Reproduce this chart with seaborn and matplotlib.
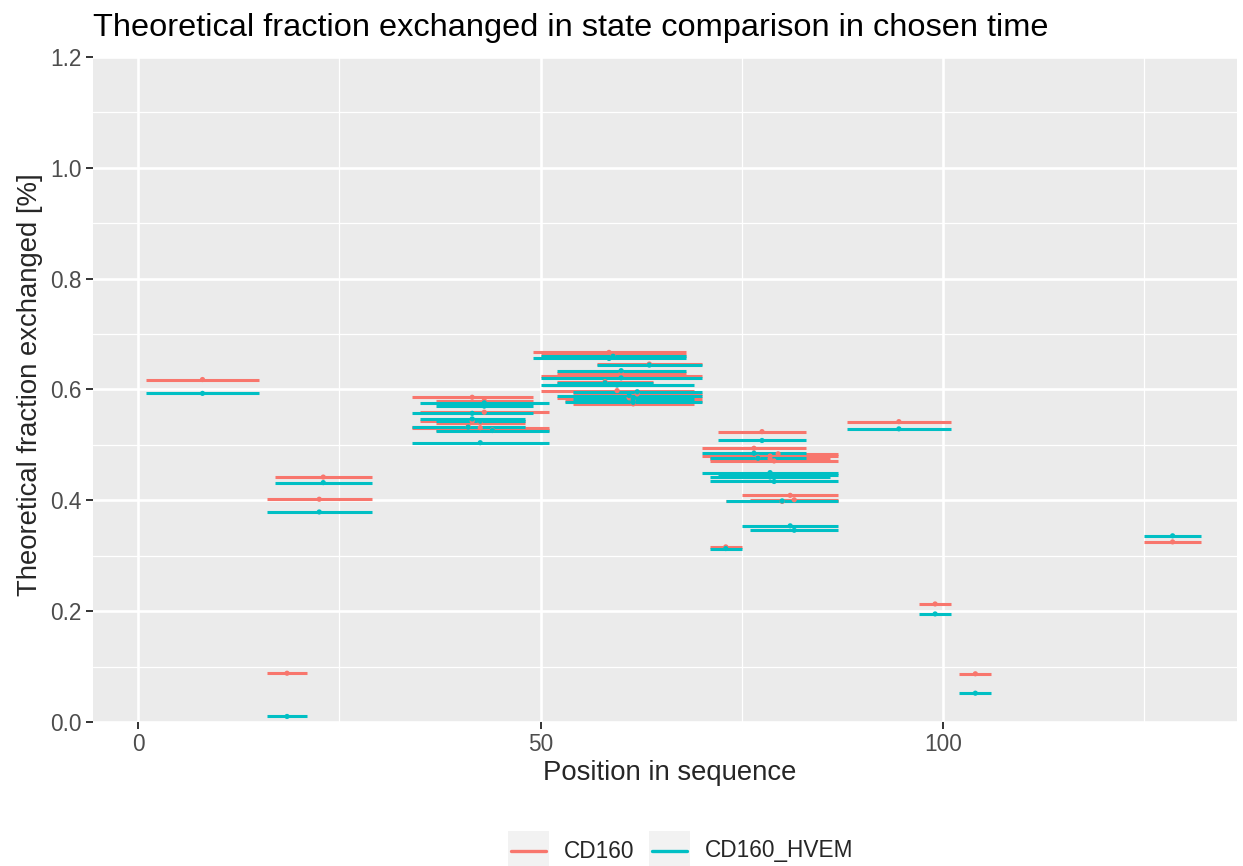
import numpy as np
import pandas as pd
import matplotlib
matplotlib.use("Agg")
import matplotlib.pyplot as plt
import seaborn as sns
from matplotlib.patches import Rectangle
from matplotlib.lines import Line2D

# ---- data ----
starts = [1, 16, 16, 17,
          34, 37, 35, 35, 37, 34, 34, 37,
          49, 50, 57, 52, 50, 52, 50, 54, 52, 53, 54,
          72, 70, 72, 71, 71, 71, 70, 75, 76, 73, 71,
          88, 97, 102, 125]
ends = [15, 21, 29, 29,
        49, 49, 51, 48, 48, 48, 51, 51,
        68, 68, 70, 68, 70, 64, 69, 70, 70, 70, 69,
        83, 83, 87, 83, 86, 87, 87, 87, 87, 87, 75,
        101, 101, 106, 132]
cd160 = [0.618, 0.088, 0.402, 0.442,
         0.586, 0.580, 0.559, 0.543, 0.540, 0.533, 0.531, 0.527,
         0.667, 0.662, 0.646, 0.629, 0.625, 0.614, 0.598, 0.592, 0.585, 0.580, 0.574,
         0.524, 0.494, 0.484, 0.478, 0.475, 0.471, 0.480, 0.409, 0.401, 0.398, 0.316,
         0.542, 0.213, 0.087, 0.325]
cd160_hvem = [0.593, 0.010, 0.379, 0.432,
              0.557, 0.570, 0.576, 0.547, 0.543, 0.532, 0.504, 0.526,
              0.656, 0.660, 0.644, 0.634, 0.621, 0.612, 0.608, 0.596, 0.589, 0.577, 0.583,
              0.508, 0.485, 0.445, 0.476, 0.442, 0.434, 0.450, 0.354, 0.346, 0.399, 0.313,
              0.529, 0.195, 0.052, 0.336]
states = ["CD160", "CD160_HVEM"]
x_ticks = [0, 50, 100]
y_ticks = [0.0, 0.2, 0.4, 0.6, 0.8, 1.0, 1.2]

rows = []
for st, vals in zip(states, [cd160, cd160_hvem]):
    for s, e, v in zip(starts, ends, vals):
        rows.append(dict(state=st, start=s, end=e, mid=(s + e) / 2, frac=v))
df = pd.DataFrame(rows)

palette = {"CD160": "#F8766D", "CD160_HVEM": "#00BFC4"}

sns.set_theme(style="darkgrid")
plt.rcParams["font.family"] = ["Liberation Sans", "DejaVu Sans"]

W, H = 1243, 866
fig = plt.figure(figsize=(W / 100, H / 100), dpi=100)
ax = fig.add_axes([93 / W, 1 - 722 / H, (1237 - 93) / W, (722 - 57) / H])
ax.set_facecolor("#EBEBEB")

for st in states:
    d = df[df.state == st]
    ax.hlines(d["frac"], d["start"], d["end"], color=palette[st], lw=2.2, zorder=3)
sns.scatterplot(data=df, x="mid", y="frac", hue="state", palette=palette,
                s=14, marker="o", edgecolor="none", legend=False, ax=ax, zorder=4)

ax.set_xlim(-5.6, 136.5)
ax.set_ylim(0, 1.2)
ax.set_xticks(x_ticks)
ax.set_xticklabels([str(t) for t in x_ticks])
ax.set_yticks(y_ticks)
ax.set_yticklabels([f"{t:.1f}" for t in y_ticks])
ax.set_xticks([25, 75, 125], minor=True)
ax.set_yticks(np.arange(0.1, 1.2, 0.2), minor=True)
ax.grid(which="major", color="white", lw=1.9)
ax.grid(which="minor", color="white", lw=0.9)
ax.set_axisbelow(True)
for sp in ax.spines.values():
    sp.set_visible(False)
ax.tick_params(which="major", length=5, width=1.4, color="#333333",
               labelsize=16.3, labelcolor="#4D4D4D", pad=3, bottom=True, left=True)
ax.tick_params(which="minor", length=0)
ax.set_xlabel("")
ax.set_ylabel("")

fig.text(93 / W, 1 - 28 / H, "Theoretical fraction exchanged in state comparison in chosen time",
         fontsize=23.4, ha="left", va="center", color="black")
fig.text(670 / W, 1 - 773 / H, "Position in sequence", fontsize=19.8, ha="center", va="center")
fig.text(30 / W, 1 - 385 / H, "Theoretical fraction exchanged [%]", fontsize=19.8,
         ha="center", va="center", rotation=90)

# legend (bottom, ggplot style keys)
keys = [(508, "CD160", 564), (649, "CD160_HVEM", 705)]
for (kx, lab, tx), st in zip(keys, states):
    fig.patches.append(Rectangle((kx / W, 1 - 866 / H), 41 / W, 35 / H,
                                 transform=fig.transFigure, facecolor="#F2F2F2",
                                 edgecolor="none"))
    fig.lines.append(Line2D([(kx + 3) / W, (kx + 38) / W], [1 - 851 / H, 1 - 851 / H],
                            transform=fig.transFigure, color=palette[st], lw=2.4))
    fig.text(tx / W, 1 - 851 / H, lab, fontsize=16.3, ha="left", va="center")

fig.savefig("out.png", dpi=100)
